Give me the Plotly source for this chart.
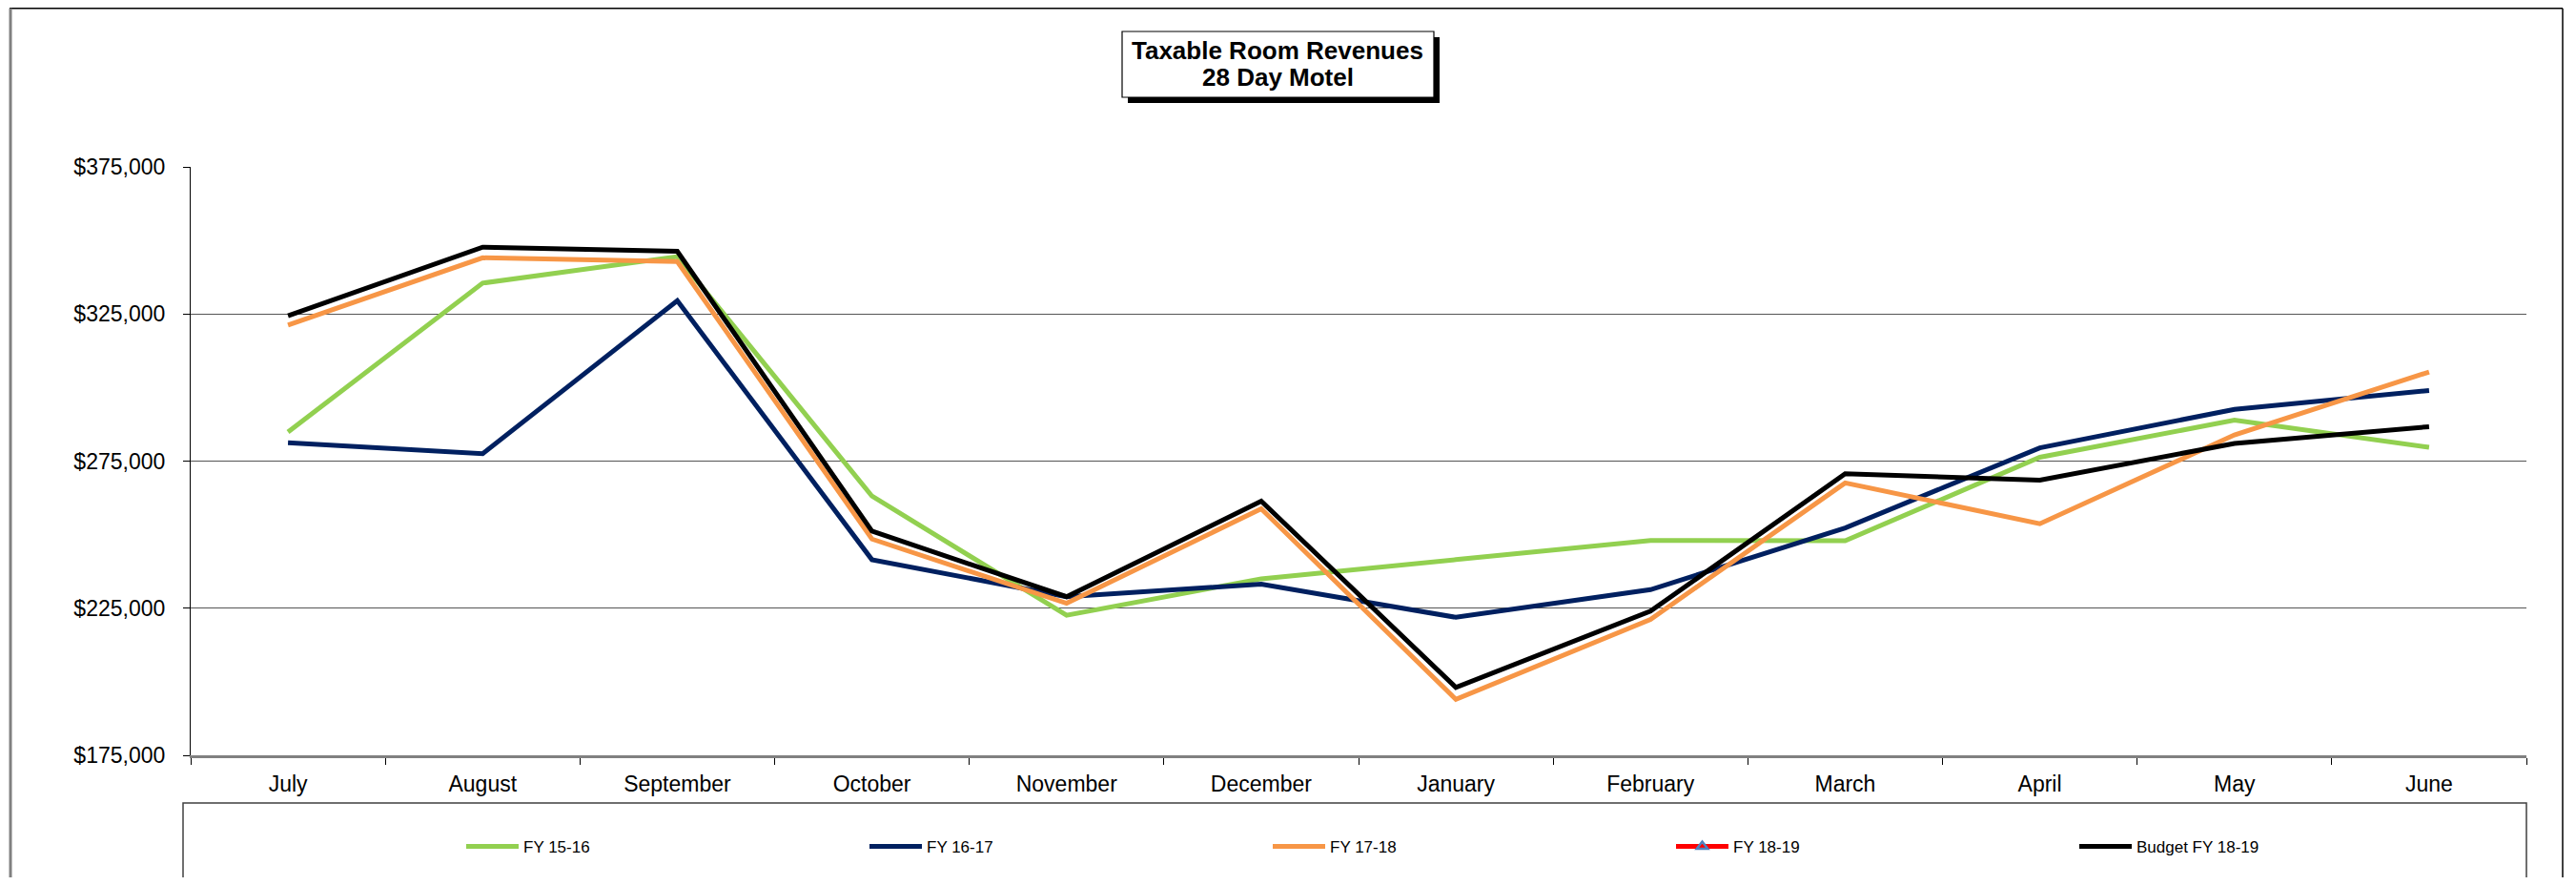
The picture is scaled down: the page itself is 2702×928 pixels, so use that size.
import plotly.graph_objects as go

months = ["July", "August", "September", "October", "November", "December",
          "January", "February", "March", "April", "May", "June"]
fy1516 = [284900, 335500, 344500, 263100, 222600, 235000, 241500, 248000, 247900, 276300, 288900, 279700]
fy1617 = [281200, 277500, 329500, 241500, 228900, 233200, 221900, 231300, 252300, 279500, 292600, 299000]
fy1718 = [321200, 344100, 342800, 248500, 226700, 258800, 194000, 221200, 267600, 253700, 283900, 305300]
fy1819 = [None] * 12
budget1819 = [324400, 347700, 346300, 251200, 228900, 261400, 198100, 224000, 270700, 268500, 281000, 286700]
y_ticks = [175000, 225000, 275000, 325000, 375000]
title_lines = ["Taxable Room Revenues", "28 Day Motel"]

# page has an 8px body margin; figure sized so the whole page fits the window
OFF = 8
W, H = 2702 - 2 * OFF, 928 - 2 * OFF
L, R, T, B = 200, 2650, 175, 792          # plot area in window coordinates
def px(x):
    return (x - L) / (R - L)
def py(y):
    return (B - y) / (B - T)

FONT = "Arial, Liberation Sans, sans-serif"

fig = go.Figure()
series = [
    ("FY 15-16", fy1516, "#92D050", None),
    ("FY 16-17", fy1617, "#002060", None),
    ("FY 17-18", fy1718, "#F79646", None),
    ("FY 18-19", fy1819, "#FF0000", dict(symbol="triangle-up-open", size=10, color="#4F81BD", line=dict(width=2.5, color="#4F81BD"))),
    ("Budget FY 18-19", budget1819, "#000000", None),
]
for name, vals, color, marker in series:
    fig.add_trace(go.Scatter(
        x=months, y=vals, name=name,
        mode="lines+markers" if marker else "lines",
        line=dict(color=color, width=5),
        marker=marker,
    ))

shapes = []
# chart outer border
shapes.append(dict(type="line", xref="paper", yref="paper", x0=px(10), x1=px(2688), y0=py(8.8), y1=py(8.8), line=dict(color="#000000", width=1.5)))
shapes.append(dict(type="line", xref="paper", yref="paper", x0=px(2688), x1=px(2688), y0=py(8.8), y1=py(940), line=dict(color="#000000", width=1.5)))
shapes.append(dict(type="line", xref="paper", yref="paper", x0=px(11), x1=px(11), y0=py(8.8), y1=py(940), line=dict(color="#808080", width=3)))
# legend box
shapes.append(dict(type="rect", xref="paper", yref="paper", x0=px(192), x1=px(2650), y0=py(842), y1=py(945), line=dict(color="#404040", width=1.5), fillcolor="rgba(0,0,0,0)"))
# title shadow + box
shapes.append(dict(type="rect", xref="paper", yref="paper", x0=px(1183), x1=px(1510), y0=py(39), y1=py(108), line=dict(color="#000000", width=0), fillcolor="#000000"))
shapes.append(dict(type="rect", xref="paper", yref="paper", x0=px(1177), x1=px(1504), y0=py(33), y1=py(102), line=dict(color="#000000", width=1.2), fillcolor="#FFFFFF"))

annotations = [
    dict(text="<b>%s</b>" % title_lines[0], xref="paper", yref="paper", x=px(1340), y=py(53), xanchor="center", yanchor="middle", showarrow=False, font=dict(family=FONT, size=26, color="#000000")),
    dict(text="<b>%s</b>" % title_lines[1], xref="paper", yref="paper", x=px(1340), y=py(81), xanchor="center", yanchor="middle", showarrow=False, font=dict(family=FONT, size=26, color="#000000")),
]

fig.update_layout(
    width=W, height=H,
    margin=dict(l=L - OFF, r=W - (R - OFF), t=T - OFF, b=H - (B - OFF), pad=0),
    paper_bgcolor="#FFFFFF", plot_bgcolor="#FFFFFF",
    font=dict(family=FONT, color="#000000"),
    showlegend=True,
    legend=dict(orientation="h", x=px(484), xanchor="left", y=py(888), yanchor="middle",
                font=dict(family=FONT, size=17, color="#000000"),
                itemwidth=55, entrywidth=353, entrywidthmode="pixels",
                bgcolor="rgba(0,0,0,0)", borderwidth=0),
    shapes=shapes,
    annotations=annotations,
    xaxis=dict(type="category", categoryorder="array", categoryarray=months, range=[-0.5, 11.5],
               showgrid=False, showline=True, linecolor="#808080", linewidth=2.5,
               ticks="outside", tickson="boundaries", ticklen=7, tickcolor="#000000", tickwidth=1,
               tickfont=dict(family=FONT, size=23, color="#000000"), zeroline=False,
               ticklabelstandoff=8, fixedrange=True),
    yaxis=dict(range=[175000, 375000], tickvals=y_ticks, tickformat="$,.0f",
               showgrid=True, gridcolor="#555555", gridwidth=1.3,
               showline=True, linecolor="#000000", linewidth=1.2,
               ticks="outside", ticklen=7, tickcolor="#000000", tickwidth=1,
               tickfont=dict(family=FONT, size=23, color="#000000"), zeroline=False,
               ticklabelstandoff=14, fixedrange=True),
)

fig.write_html("out.html")
